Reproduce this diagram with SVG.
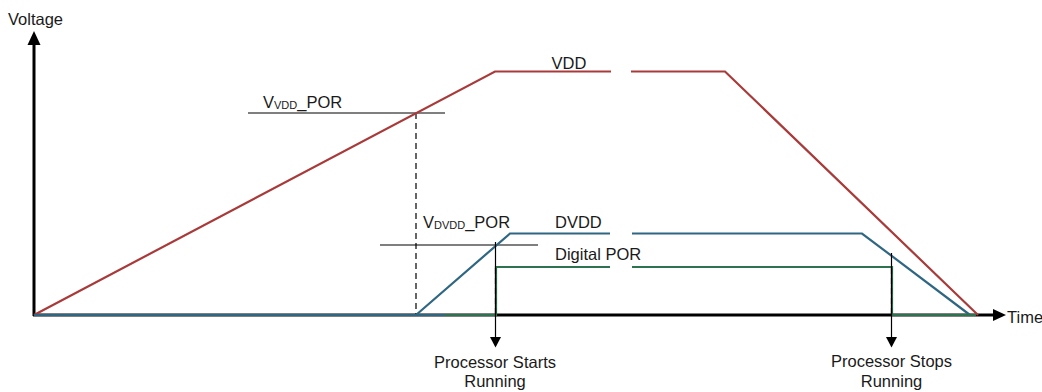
<svg xmlns="http://www.w3.org/2000/svg" width="1042" height="392" viewBox="0 0 1042 392">
<style>
.t{font-family:"Liberation Sans",Arial,sans-serif;font-size:16.5px;fill:#1a1a1a}
.sub{font-size:11px}
.red{fill:none;stroke:#A93A3A;stroke-width:2.2}
.blue{fill:none;stroke:#2F6782;stroke-width:2.2}
.green{fill:none;stroke:#2E7350;stroke-width:2.2}
.thin{fill:none;stroke:#000;stroke-width:1.2}
.dash{fill:none;stroke:#000;stroke-width:1.2;stroke-dasharray:6 4}
.axis{fill:none;stroke:#000;stroke-width:3}
</style>
<rect width="1042" height="392" fill="#fff"/>
<g id="axes">
<line class="axis" x1="34" y1="316" x2="34" y2="44"/>
<polygon points="34,31 27.5,45 40.5,45" fill="#000"/>
<line class="axis" x1="33" y1="315" x2="994" y2="315"/>
<polygon points="1006,315 993,309 993,321" fill="#000"/>
<text class="t" x="8" y="25">Voltage</text>
<text class="t" x="1007" y="323">Time</text>
</g>
<g id="thresholds">
<line class="thin" x1="248" y1="113" x2="445" y2="113"/>
<line class="thin" x1="380" y1="245" x2="538" y2="245"/>
<line class="dash" x1="416" y1="113" x2="416" y2="315"/>
<text class="t" x="263" y="107.5">V<tspan class="sub" dy="1.5">VDD</tspan><tspan dy="-1.5">_POR</tspan></text>
<text class="t" x="423" y="228">V<tspan class="sub" dy="1">DVDD</tspan><tspan dy="-1">_POR</tspan></text>
</g>
<g id="vdd">
<polyline class="red" points="34,315 495,71.5 611,71.5"/>
<polyline class="red" points="631,71.5 725,71.5 978,315"/>
<text class="t" x="551.5" y="69">VDD</text>
</g>
<g id="dvdd">
<polyline class="blue" points="34,315 445,315"/>
<polyline class="blue" points="416,315 510,233.5 610,233.5"/>
<polyline class="blue" points="632,233.5 862,233.5 970,315"/>
<text class="t" x="555" y="228">DVDD</text>
</g>
<g id="digital-por">
<polyline class="green" points="445,315 496,315 496,267 610,267"/>
<polyline class="green" points="632,267 892,267 892,315 976,315"/>
<text class="t" x="555" y="260">Digital POR</text>
</g>
<g id="connectors">
<line class="thin" x1="495.5" y1="242" x2="495.5" y2="338"/>
<line class="dash" x1="495.5" y1="268" x2="495.5" y2="315" stroke-width="1.4"/>
<polygon points="490,337 501,337 495.5,347.5" fill="#000"/>
<line class="thin" x1="891.5" y1="253" x2="891.5" y2="338"/>
<line class="dash" x1="891.5" y1="268" x2="891.5" y2="315" stroke-width="1.4"/>
<polygon points="886,337 897,337 891.5,347.5" fill="#000"/>
</g>
<g id="label-start">
<text class="t" x="495" y="368" text-anchor="middle">Processor Starts</text>
<text class="t" x="495" y="387" text-anchor="middle">Running</text>
</g>
<g id="label-stop">
<text class="t" x="891.5" y="367" text-anchor="middle">Processor Stops</text>
<text class="t" x="891.5" y="386.5" text-anchor="middle">Running</text>
</g>
</svg>
